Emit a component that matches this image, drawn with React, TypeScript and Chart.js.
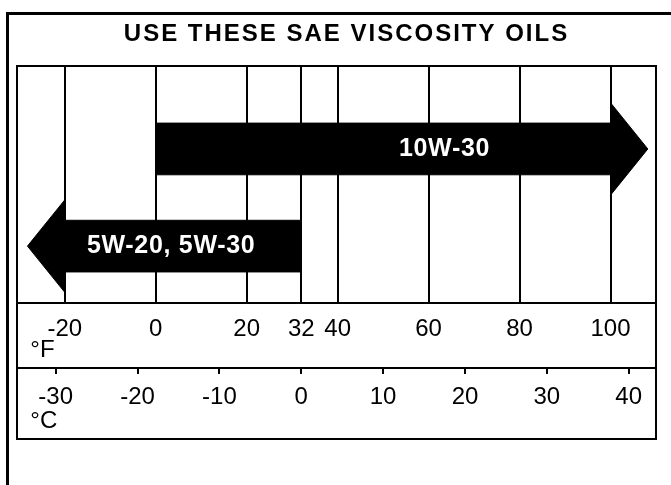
import React, { useEffect, useRef } from "react";
import { Chart, registerables } from "chart.js";

Chart.register(...registerables);

// ---- data ----
const titleText = "USE THESE SAE VISCOSITY OILS";
const fahrenheitTicks = [-20, 0, 20, 32, 40, 60, 80, 100];
const celsiusTicks = [-30, -20, -10, 0, 10, 20, 30, 40];
const arrowLabels = ["10W-30", "5W-20, 5W-30"];
const arrowTailF = [0, 32]; // blunt end of each arrow (°F)
const arrowHeadF = [100, -20]; // base of the arrow head (°F)
const arrowRow = [6.5, 2.4]; // row level on the hidden vertical scale
const fMin = -30.5;
const fMax = 110;

// ---- styles ----
const SHAFT_HALF = 1.09;
const HEAD_HALF = 1.95;
const HEAD_LEN_F = 8.2;
const LABEL_AT = [0.635, 0.55];
const TITLE_SHIFT_X = 10;
const FONT = "'Liberation Sans', Arial, Helvetica, sans-serif";

const toC = (f: number) => ((f - 32) * 5) / 9;

function arrowPolygon(i: number) {
  const tail = arrowTailF[i];
  const base = arrowHeadF[i];
  const dir = Math.sign(base - tail);
  const tip = base + dir * HEAD_LEN_F;
  const y = arrowRow[i];
  return [
    { x: tail, y: y + SHAFT_HALF },
    { x: base, y: y + SHAFT_HALF },
    { x: base, y: y + HEAD_HALF },
    { x: tip, y: y },
    { x: base, y: y - HEAD_HALF },
    { x: base, y: y - SHAFT_HALF },
    { x: tail, y: y - SHAFT_HALF },
    { x: tail, y: y + SHAFT_HALF },
  ];
}

const framePlugin = {
  id: "framePlugin",
  beforeDraw(chart: any) {
    const tb = chart.titleBlock;
    if (tb && !tb._spaced) {
      const orig = tb.draw.bind(tb);
      tb.draw = (...args: any[]) => {
        const ctx = chart.ctx;
        ctx.save();
        (ctx as any).letterSpacing = "2px";
        ctx.translate(TITLE_SHIFT_X, 0);
        orig(...args);
        ctx.restore();
      };
      tb._spaced = true;
    }
  },
  afterDatasetsDraw(chart: any) {
    const { ctx } = chart;
    const xs = chart.scales.x;
    const ys = chart.scales.y;
    ctx.save();
    ctx.fillStyle = "#fff";
    ctx.textAlign = "center";
    ctx.textBaseline = "middle";
    (ctx as any).letterSpacing = "0.7px";
    ctx.font = `bold 25px ${FONT}`;
    arrowLabels.forEach((lab, i) => {
      const v = arrowTailF[i] + LABEL_AT[i] * (arrowHeadF[i] - arrowTailF[i]);
      ctx.fillText(lab, xs.getPixelForValue(v), ys.getPixelForValue(arrowRow[i]));
    });
    ctx.restore();
  },
  afterDraw(chart: any) {
    const { ctx, chartArea } = chart;
    const cs = chart.scales.c;
    ctx.save();
    ctx.strokeStyle = "#000";
    ctx.lineWidth = 2;
    ctx.strokeRect(
      chartArea.left,
      chartArea.top,
      chartArea.right - chartArea.left,
      cs.bottom - chartArea.top
    );
    ctx.restore();
  },
};

export default function App() {
  const ref = useRef<HTMLCanvasElement>(null);

  useEffect(() => {
    if (!ref.current) return;
    const datasets = arrowLabels.map((lab, i) => ({
      label: lab,
      data: arrowPolygon(i),
      xAxisID: "x",
      yAxisID: "y",
      fill: "shape",
      backgroundColor: "#000",
      borderColor: "#000",
      borderWidth: 1,
      pointRadius: 0,
      tension: 0,
    }));
    const chart = new Chart(ref.current, {
      type: "line",
      data: { datasets: datasets as any },
      plugins: [framePlugin],
      options: {
        animation: false,
        responsive: false,
        events: [],
        layout: { padding: { top: 0, left: 17, right: 15, bottom: 46 } },
        plugins: {
          legend: { display: false },
          tooltip: { enabled: false },
          title: {
            display: true,
            text: titleText,
            color: "#000",
            font: { family: FONT, size: 24, weight: "bold" },
            padding: { top: 20, bottom: 17.2 },
          },
        },
        scales: {
          x: {
            type: "linear",
            position: "bottom",
            weight: 1,
            min: fMin,
            max: fMax,
            afterBuildTicks: (s: any) => {
              s.ticks = fahrenheitTicks.map((v) => ({ value: v }));
            },
            afterFit: (s: any) => {
              s.height = 65;
            },
            grid: {
              color: "#000",
              lineWidth: 2,
              drawTicks: false,
              drawOnChartArea: true,
            },
            border: { display: true, color: "#000", width: 2 },
            ticks: {
              autoSkip: false,
              maxRotation: 0,
              padding: 12,
              color: "#000",
              font: { family: FONT, size: 24 },
              callback: (v: any) => String(v),
            },
            title: {
              display: true,
              text: "  °F",
              align: "start",
              color: "#000",
              font: { family: FONT, size: 24 },
              padding: { top: 0, bottom: 3 },
            },
          },
          c: {
            type: "linear",
            position: "bottom",
            weight: 2,
            min: toC(fMin),
            max: toC(fMax),
            afterBuildTicks: (s: any) => {
              s.ticks = celsiusTicks.map((v) => ({ value: v }));
            },
            afterFit: (s: any) => {
              s.height = 71;
            },
            grid: {
              color: "#000",
              lineWidth: 2,
              drawTicks: true,
              tickLength: 6,
              drawOnChartArea: false,
            },
            border: { display: true, color: "#000", width: 2 },
            ticks: {
              autoSkip: false,
              maxRotation: 0,
              padding: 9,
              color: "#000",
              font: { family: FONT, size: 24 },
              callback: (v: any) => String(v),
            },
            title: {
              display: true,
              text: "  °C",
              align: "start",
              color: "#000",
              font: { family: FONT, size: 24 },
              padding: { top: 0, bottom: 3.5 },
            },
          },
          y: {
            type: "linear",
            display: false,
            min: 0,
            max: 10,
          },
        },
      } as any,
    });
    return () => chart.destroy();
  }, []);

  return (
    <div
      style={{
        position: "fixed",
        left: 0,
        top: 0,
        width: 671,
        height: 485,
        overflow: "hidden",
        background: "#fff",
      }}
    >
      <div
        style={{
          position: "absolute",
          left: 6,
          top: 12,
          width: 1000,
          height: 1000,
          borderTop: "3px solid #000",
          borderLeft: "3px solid #000",
        }}
      />
      <canvas
        ref={ref}
        width={671}
        height={485}
        style={{ position: "absolute", left: 0, top: 0, width: 671, height: 485 }}
      />
    </div>
  );
}
